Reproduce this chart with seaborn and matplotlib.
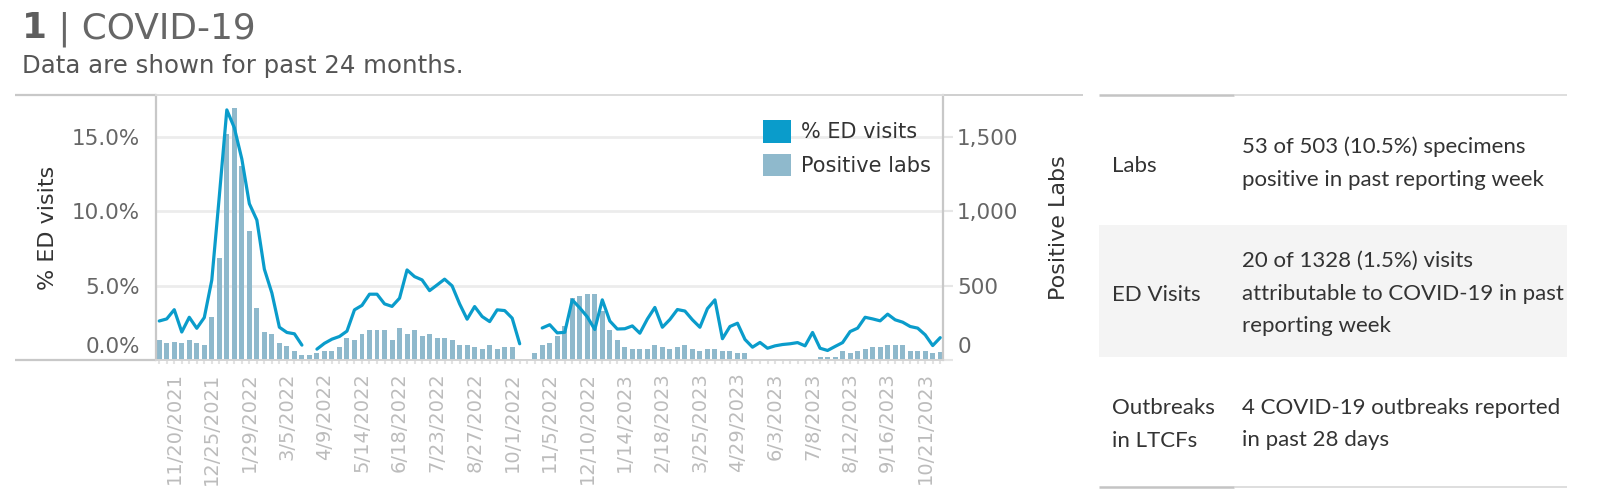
import numpy as np
import pandas as pd
import matplotlib
matplotlib.use("Agg")
import matplotlib.pyplot as plt
import seaborn as sns
from matplotlib.patches import Patch, Rectangle
from matplotlib.lines import Line2D
from matplotlib.transforms import ScaledTranslation

# ---------------- data ----------------
week_start = "2021-11-06"
n_weeks = 105
positive_labs = [137, 116, 123, 116, 137, 116, 103, 291, 688, 1520,
                 1690, 1305, 865, 352, 190, 177, 116, 91, 62, 36,
                 36, 49, 62, 62, 89, 150, 137, 177, 204, 204,
                 204, 137, 217, 177, 204, 163, 177, 150, 150, 136,
                 103, 103, 89, 76, 103, 76, 89, 89, 9, 9,
                 49, 103, 116, 163, 231, 419, 432, 446, 446, 330,
                 204, 136, 89, 76, 76, 76, 103, 89, 76, 89,
                 103, 76, 62, 76, 76, 62, 62, 48, 48, 9,
                 0, 9, 9, 9, 9, 9, 0, 0, 22, 22,
                 22, 62, 49, 62, 76, 89, 89, 103, 103, 103,
                 62, 62, 62, 49, 53]
nan = np.nan
ed_pct = [2.62, 2.76, 3.38, 1.88, 2.87, 2.13, 2.85, 5.37, 11.0, 16.8,
          15.6, 13.5, 10.5, 9.4, 6.1, 4.5, 2.2, 1.85, 1.76, 1.0,
          nan, 0.73, 1.12, 1.40, 1.58, 1.94, 3.37, 3.67, 4.42, 4.42,
          3.77, 3.6, 4.15, 6.05, 5.6, 5.38, 4.66, 5.04, 5.43, 4.98,
          3.77, 2.74, 3.59, 2.92, 2.58, 3.37, 3.32, 2.81, 1.09, nan,
          nan, 2.15, 2.37, 1.82, 1.86, 4.04, 3.5, 2.9, 2.05, 4.04,
          2.62, 2.08, 2.10, 2.29, 1.80, 2.75, 3.53, 2.20, 2.72, 3.39,
          3.29, 2.70, 2.20, 3.45, 4.04, 1.43, 2.25, 2.47, 1.38, 0.86,
          1.18, 0.79, 0.95, 1.04, 1.09, 1.17, 0.95, 1.85, 0.79, 0.64,
          0.91, 1.17, 1.91, 2.14, 2.87, 2.76, 2.63, 3.08, 2.70, 2.54,
          2.25, 2.14, 1.69, 0.97, 1.5]
x_tick_labels = ["11/20/2021", "12/25/2021", "1/29/2022", "3/5/2022", "4/9/2022",
                 "5/14/2022", "6/18/2022", "7/23/2022", "8/27/2022", "10/1/2022",
                 "11/5/2022", "12/10/2022", "1/14/2023", "2/18/2023", "3/25/2023",
                 "4/29/2023", "6/3/2023", "7/8/2023", "8/12/2023", "9/16/2023",
                 "10/21/2023"]
left_ticks = [0, 5, 10, 15]
left_tick_labels = ["0.0%", "5.0%", "10.0%", "15.0%"]
right_ticks = [0, 500, 1000, 1500]
right_tick_labels = ["0", "500", "1,000", "1,500"]

table_labels = [["Labs"], ["ED Visits"], ["Outbreaks", "in LTCFs"]]
table_values = [["53 of 503 (10.5%) specimens", "positive in past reporting week"],
                ["20 of 1328 (1.5%) visits", "attributable to COVID-19 in past", "reporting week"],
                ["4 COVID-19 outbreaks reported", "in past 28 days"]]

title_num = "1"
title_rest = " | COVID-19"
subtitle = "Data are shown for past 24 months."

# ---------------- style ----------------
LINE = "#0a9ccb"
BAR = "#8fb9cc"
W, H = 1612, 501

sns.set_theme(style="white")
plt.rcParams["font.family"] = ["DejaVu Sans"]

fig = plt.figure(figsize=(W / 100, H / 100), dpi=100)
fig.patch.set_facecolor("white")


def fx(px):
    return px / W


def fy(py):
    return 1 - py / H


AX_L, AX_R, AX_T, AX_B = 156, 943, 95, 360
ax = fig.add_axes([fx(AX_L), fy(AX_B), (AX_R - AX_L) / W, (AX_B - AX_T) / H])
ax2 = ax.twinx()

dates = pd.date_range(week_start, periods=n_weeks, freq="7D")
date_str = [f"{d.month}/{d.day}/{d.year}" for d in dates]
df = pd.DataFrame({"week": np.arange(n_weeks), "labs": positive_labs, "ed": ed_pct})

# bars (right axis)
sns.barplot(data=df, x="week", y="labs", ax=ax2, color=BAR, saturation=1,
            width=0.66, errorbar=None, linewidth=0)

# line (left axis), gaps split into separate units
df["seg"] = df["ed"].isna().cumsum()
line_df = df.dropna(subset=["ed"])
sns.lineplot(data=line_df, x="week", y="ed", units="seg", estimator=None, ax=ax,
             color=LINE, linewidth=2.3, legend=False)

ax.set_zorder(2)
ax.patch.set_visible(False)
ax2.set_zorder(1)

ax.set_xlim(-0.43, 104.37)
ax.set_ylim(0, 17.8)
ax2.set_ylim(0, 1780)

# x ticks
tick_pos = [date_str.index(s) for s in x_tick_labels]
ax.set_xticks(tick_pos)
ax.set_xticklabels(x_tick_labels, rotation=90)
ax.set_xticks(np.arange(n_weeks), minor=True)
ax.tick_params(axis="x", which="both", bottom=True, length=3, width=1.5, color="#e2e2e2")
ax.tick_params(axis="x", which="major", pad=6, labelsize=14, labelcolor="#bcbcbc")

# y ticks
ax.set_yticks(left_ticks)
ax.set_yticklabels(left_tick_labels)
ax.tick_params(axis="y", length=0, pad=11.5, labelsize=15.5, labelcolor="#666666")
ax2.set_yticks(right_ticks)
ax2.set_yticklabels(right_tick_labels)
ax2.tick_params(axis="y", right=True, length=7.2, width=1.5, color="#e6e6e6", pad=3,
                labelsize=15.5, labelcolor="#666666")
up = ScaledTranslation(0, 0.03, fig.dpi_scale_trans)
for lbl in (ax.get_yticklabels()[0], ax2.get_yticklabels()[0]):
    lbl.set_verticalalignment("bottom")
    lbl.set_transform(lbl.get_transform() + up)

ax2.yaxis.grid(True, color="#ececec", linewidth=2)
ax2.set_axisbelow(True)
ax.grid(False)
ax.xaxis.grid(False)

# spines
for s in ["left", "top", "bottom", "right"]:
    ax.spines[s].set_visible(True)
    ax2.spines[s].set_visible(False)
ax.spines["right"].set_visible(False)
ax.spines["left"].set_color("#c8c8c8")
ax.spines["left"].set_linewidth(1.6)
ax.spines["top"].set_color("#dcdcdc")
ax.spines["top"].set_linewidth(1.4)
ax.spines["bottom"].set_color("#d4d4d4")
ax.spines["bottom"].set_linewidth(1.4)
ax2.spines["right"].set_visible(True)
ax2.spines["right"].set_color("#c8c8c8")
ax2.spines["right"].set_linewidth(1.6)

# axis titles
ax.set_xlabel("")
ax2.set_xlabel("")
ax.set_ylabel("% ED visits", fontsize=16, color="#333333")
ax.yaxis.set_label_coords((58 - AX_L) / (AX_R - AX_L), 0.5)
ax2.set_ylabel("Positive Labs", fontsize=16, color="#333333")
ax2.yaxis.set_label_coords((1049 - AX_L) / (AX_R - AX_L), 0.5)

# legend
handles = [Patch(facecolor=LINE, edgecolor="none", label="% ED visits"),
           Patch(facecolor=BAR, edgecolor="none", label="Positive labs")]
ax.legend(handles=handles, loc="upper left", bbox_to_anchor=(fx(763), fy(120)),
          bbox_transform=fig.transFigure, frameon=False, fontsize=15,
          handlelength=1.35, handleheight=1.3, handletextpad=0.47,
          labelspacing=0.53, borderpad=0, borderaxespad=0, labelcolor="#333333")

# frame lines outside plot
def hline(x0, x1, y, color, lw):
    fig.add_artist(Line2D([fx(x0), fx(x1)], [fy(y), fy(y)], transform=fig.transFigure,
                          color=color, linewidth=lw, solid_capstyle="butt"))

hline(15, 156, 95, "#c8c8c8", 1.6)
hline(15, 156, 360, "#c8c8c8", 1.6)
hline(943, 1083, 95, "#cfcfcf", 1.4)

# title
renderer = fig.canvas.get_renderer()
t1 = fig.text(fx(22), fy(38.3), title_num, fontsize=25.8, fontweight="bold",
              color="#5e5e5e", va="baseline", ha="left")
bb = t1.get_window_extent(renderer=renderer)
fig.text(bb.x1 / W, fy(38.3), title_rest, fontsize=25.8, color="#666666",
         va="baseline", ha="left")
fig.text(fx(22), fy(73.3), subtitle, fontsize=17.6, color="#555555",
         va="baseline", ha="left")

# summary table
TX0, TX1, TXM = 1099, 1567, 1234
fig.add_artist(Rectangle((fx(TX0), fy(357)), (TX1 - TX0) / W, (357 - 225) / H,
                         transform=fig.transFigure, facecolor="#f4f4f4",
                         edgecolor="none", zorder=0))
for y in (95, 487):
    hline(TX0, TXM, y, "#c4c4c4", 1.8)
    hline(TXM, TX1, y, "#d8d8d8", 1.2)

tfont = ["Lato", "DejaVu Sans"]
label_baselines = [[172], [301], [414.5, 447]]
value_baselines = [[153, 185.5], [267, 299.5, 332], [414, 446.5]]
for labs, lys in zip(table_labels, label_baselines):
    for s, y in zip(labs, lys):
        fig.text(fx(1111.7), fy(y), s, fontsize=16, color="#333333",
                 family=tfont, va="baseline", ha="left")
for vals, vys in zip(table_values, value_baselines):
    for s, y in zip(vals, vys):
        fig.text(fx(1241.7), fy(y), s, fontsize=16, color="#333333",
                 family=tfont, va="baseline", ha="left")

fig.savefig("out.png", dpi=100, facecolor="white")
